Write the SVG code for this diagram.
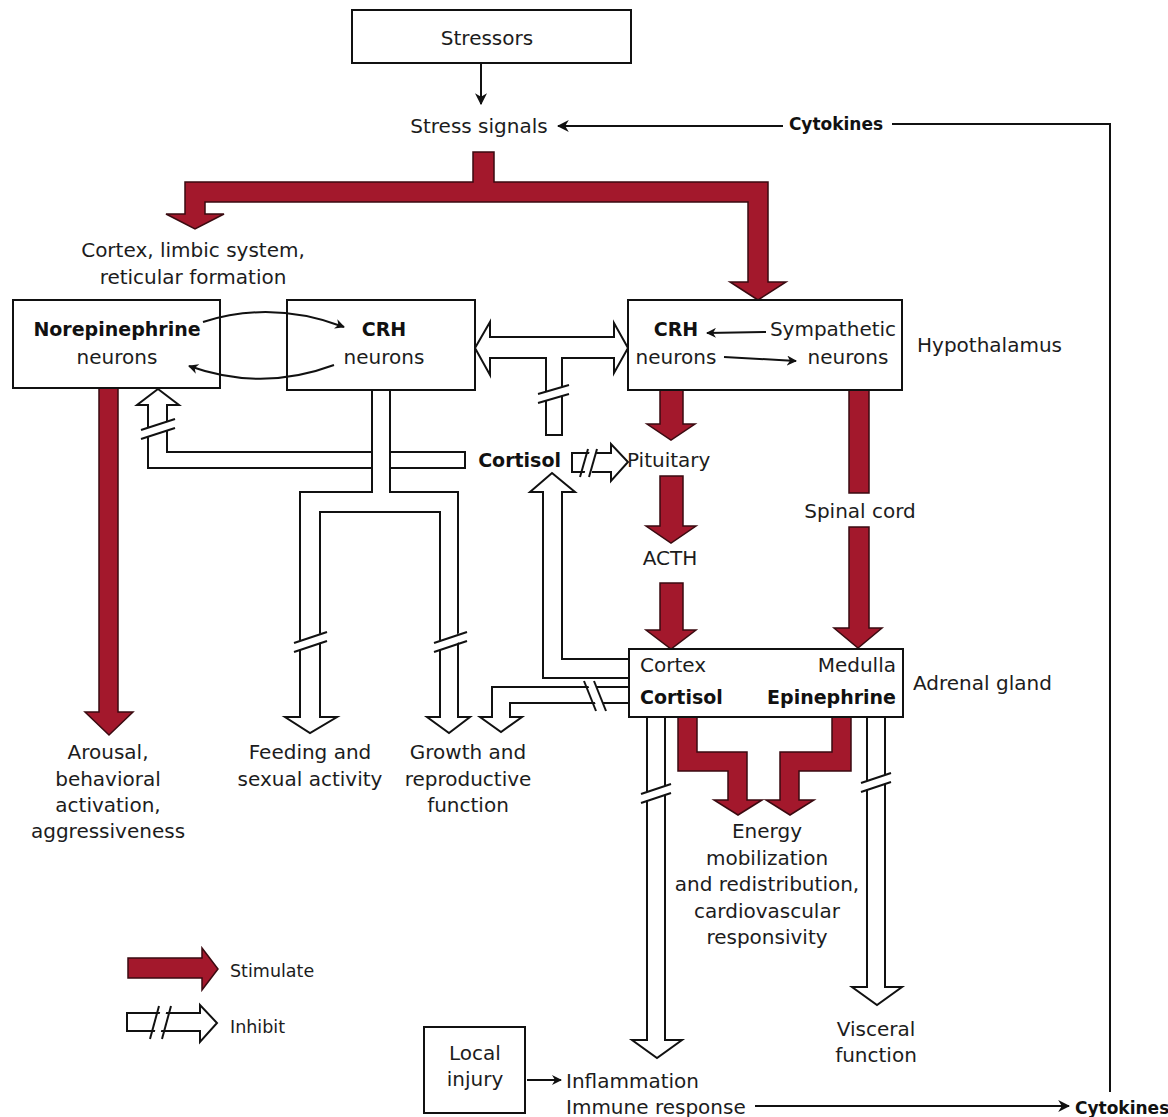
<svg xmlns="http://www.w3.org/2000/svg" width="1168" height="1117" viewBox="0 0 1168 1117">
<defs>
<marker id="ah" viewBox="0 0 10 10" refX="9" refY="5" markerWidth="10" markerHeight="10" markerUnits="userSpaceOnUse" orient="auto"><path d="M0,0 L10,5 L0,10 L3,5 Z" fill="#111"/></marker>
<marker id="ahs" viewBox="0 0 10 10" refX="9" refY="5" markerWidth="12" markerHeight="12" markerUnits="userSpaceOnUse" orient="auto"><path d="M0,0 L10,5 L0,10 L3,5 Z" fill="#111"/></marker>
</defs>
<style>
.t{font-family:"DejaVu Sans",sans-serif;font-size:20px;fill:#1c1c1c}
.b{font-family:"DejaVu Sans",sans-serif;font-size:19px;font-weight:bold;fill:#111}
.c{font-family:"DejaVu Sans",sans-serif;font-size:17px;font-weight:bold;fill:#111}
.l{font-family:"DejaVu Sans",sans-serif;font-size:17.5px;fill:#1c1c1c}
.m{text-anchor:middle}
.e{text-anchor:end}
.box{fill:none;stroke:#111;stroke-width:2}
.red{fill:#a3182c;stroke:#3a0a10;stroke-width:1.5;stroke-linejoin:miter}
.wh{fill:#fff;stroke:#111;stroke-width:2;stroke-linejoin:miter}
.gap{fill:#fff;stroke:none}
.sl{stroke:#111;stroke-width:2;fill:none}
.thin{stroke:#111;stroke-width:2;fill:none}
</style>
<rect width="1168" height="1117" fill="#fff"/>

<g id="connectors">
  <!-- thin arrows -->
  <line class="thin" x1="481" y1="63" x2="481" y2="104" marker-end="url(#ahs)"/>
  <line class="thin" x1="783" y1="126" x2="558" y2="126" marker-end="url(#ahs)"/>
  <polyline class="thin" points="892,124 1110,124 1110,1092"/>
  <line class="thin" x1="527" y1="1080" x2="561" y2="1080" marker-end="url(#ah)"/>
  <line class="thin" x1="755" y1="1106" x2="1069" y2="1106" marker-end="url(#ahs)"/>
  <path class="thin" d="M203,322 Q272,300 344,327" marker-end="url(#ah)"/>
  <path class="thin" d="M334,365 Q262,392 189,366" marker-end="url(#ah)"/>
  <line class="thin" x1="766" y1="332" x2="707" y2="333" marker-end="url(#ah)"/>
  <line class="thin" x1="724" y1="357" x2="796" y2="361" marker-end="url(#ah)"/>

  <!-- red stimulate arrows -->
  <polygon class="red" points="473,152 494,152 494,182 768,182 768,282 786,282 758,300 730,282 748,282 748,202 205,202 205,214 224,214 195,229 166,214 185,214 185,182 473,182"/>
  <polygon class="red" points="99,388 118,388 118,712 133,712 109,735 85,712 99,712"/>
  <polygon class="red" points="660,390 683,390 683,424 695,424 671,440 647,424 660,424"/>
  <polygon class="red" points="660,476 683,476 683,526 696,526 671,543 646,526 660,526"/>
  <polygon class="red" points="660,583 683,583 683,630 696,630 671,649 646,630 660,630"/>
  <polygon class="red" points="849,390 869,390 869,493 849,493"/>
  <polygon class="red" points="849,527 869,527 869,628 882,628 858,648 834,628 849,628"/>
  <polygon class="red" points="678,717 697,717 697,752 747,752 747,800 762,800 738,815 714,800 728,800 728,771 678,771"/>
  <polygon class="red" points="851,717 832,717 832,752 780,752 780,800 766,800 790,815 814,800 799,800 799,771 851,771"/>

  <!-- white inhibit channels -->
  <polygon class="wh" points="158,389 179,405 167,405 167,452 465,452 465,468 148,468 148,405 137,405"/>
  <polygon class="gap" points="146,428 170,420 170,430 146,438"/>
  <line class="sl" x1="141" y1="430" x2="175" y2="419"/>
  <line class="sl" x1="141" y1="439" x2="175" y2="428"/>

  <polygon class="wh" points="372,390 390,390 390,492 458,492 458,717 470,717 449,733 427,717 440,717 440,512 320,512 320,717 337,717 310,733 285,717 300,717 300,492 372,492"/>
  <polygon class="gap" points="298,641 322,633 322,642 298,650"/>
  <line class="sl" x1="294" y1="643" x2="327" y2="632"/>
  <line class="sl" x1="294" y1="652" x2="327" y2="641"/>
  <polygon class="gap" points="438,641 460,633 460,642 438,650"/>
  <line class="sl" x1="434" y1="643" x2="467" y2="632"/>
  <line class="sl" x1="434" y1="652" x2="467" y2="641"/>

  <polygon class="wh" points="475,348 490,322 490,337 614,337 614,323 628,348 614,373 614,358 562,358 562,435 546,435 546,358 490,358 490,375"/>
  <polygon class="gap" points="544,392 564,386 564,395 544,401"/>
  <line class="sl" x1="538" y1="394" x2="569" y2="385"/>
  <line class="sl" x1="538" y1="403" x2="569" y2="394"/>

  <polygon class="wh" points="572,453 611,453 611,444 628,462 611,481 611,472 572,472"/>
  <polygon class="gap" points="584,476 590,450 597,450 591,476"/>
  <line class="sl" x1="580" y1="477" x2="588" y2="449"/>
  <line class="sl" x1="589" y1="477" x2="597" y2="449"/>

  <polygon class="wh" points="552,473 575,492 562,492 562,659 629,659 629,678 543,678 543,492 530,492"/>
  <polygon class="wh" points="629,687 492,687 492,717 480,717 501,732 522,717 510,717 510,703 629,703"/>
  <polygon class="gap" points="588,685 596,685 604,705 596,705"/>
  <line class="sl" x1="584" y1="681" x2="596" y2="711"/>
  <line class="sl" x1="594" y1="681" x2="606" y2="711"/>

  <polygon class="wh" points="647,717 665,717 665,1040 682,1040 657,1058 632,1040 647,1040"/>
  <polygon class="gap" points="645,792 667,785 667,794 645,801"/>
  <line class="sl" x1="641" y1="794" x2="671" y2="784"/>
  <line class="sl" x1="641" y1="803" x2="671" y2="793"/>

  <polygon class="wh" points="867,717 885,717 885,987 902,987 877,1005 852,987 867,987"/>
  <polygon class="gap" points="865,781 887,774 887,783 865,790"/>
  <line class="sl" x1="861" y1="783" x2="891" y2="773"/>
  <line class="sl" x1="861" y1="792" x2="891" y2="782"/>
</g>

<g id="stressors"><rect class="box" x="352" y="10" width="279" height="53"/><text class="t m" x="487" y="45">Stressors</text></g>
<g id="stress-signals"><text class="t m" x="479" y="133">Stress signals</text></g>
<g id="cytokines-top"><text class="c m" x="836" y="130">Cytokines</text></g>
<g id="cortex-limbic"><text class="t m" x="193" y="257">Cortex, limbic system,</text><text class="t m" x="193" y="284">reticular formation</text></g>
<g id="norepinephrine"><rect class="box" x="13" y="300" width="207" height="88"/><text class="b m" x="117" y="336">Norepinephrine</text><text class="t m" x="117" y="364">neurons</text></g>
<g id="crh-left"><rect class="box" x="287" y="300" width="188" height="90"/><text class="b m" x="384" y="336">CRH</text><text class="t m" x="384" y="364">neurons</text></g>
<g id="hypothalamus"><rect class="box" x="628" y="300" width="274" height="90"/><text class="b m" x="676" y="336">CRH</text><text class="t m" x="676" y="364">neurons</text><text class="t m" x="833" y="336">Sympathetic</text><text class="t m" x="848" y="364">neurons</text><text class="t" x="917" y="352">Hypothalamus</text></g>
<g id="cortisol-mid"><text class="b e" x="561" y="467">Cortisol</text></g>
<g id="pituitary"><text class="t" x="627" y="467">Pituitary</text></g>
<g id="spinal-cord"><text class="t m" x="860" y="518">Spinal cord</text></g>
<g id="acth"><text class="t m" x="670" y="565">ACTH</text></g>
<g id="adrenal"><rect class="box" x="629" y="649" width="274" height="68"/><text class="t" x="640" y="672">Cortex</text><text class="t e" x="896" y="672">Medulla</text><text class="b" x="640" y="704">Cortisol</text><text class="b e" x="896" y="704">Epinephrine</text><text class="t" x="913" y="690">Adrenal gland</text></g>
<g id="arousal"><text class="t m" x="108" y="759">Arousal,</text><text class="t m" x="108" y="786">behavioral</text><text class="t m" x="108" y="812">activation,</text><text class="t m" x="108" y="838">aggressiveness</text></g>
<g id="feeding"><text class="t m" x="310" y="759">Feeding and</text><text class="t m" x="310" y="786">sexual activity</text></g>
<g id="growth"><text class="t m" x="468" y="759">Growth and</text><text class="t m" x="468" y="786">reproductive</text><text class="t m" x="468" y="812">function</text></g>
<g id="energy"><text class="t m" x="767" y="838">Energy</text><text class="t m" x="767" y="865">mobilization</text><text class="t m" x="767" y="891">and redistribution,</text><text class="t m" x="767" y="918">cardiovascular</text><text class="t m" x="767" y="944">responsivity</text></g>
<g id="visceral"><text class="t m" x="876" y="1036">Visceral</text><text class="t m" x="876" y="1062">function</text></g>
<g id="local-injury"><rect class="box" x="424" y="1027" width="101" height="86"/><text class="t m" x="475" y="1060">Local</text><text class="t m" x="475" y="1086">injury</text></g>
<g id="inflammation"><text class="t" x="566" y="1088">Inflammation</text><text class="t" x="566" y="1114">Immune response</text></g>
<g id="cytokines-bottom"><text class="c" x="1075" y="1114">Cytokines</text></g>
<g id="legend">
  <polygon class="red" points="128,958 202,958 202,948 218,969 202,990 202,978 128,978"/>
  <text class="l" x="230" y="977">Stimulate</text>
  <polygon class="wh" points="127,1013 200,1013 200,1005 217,1023 200,1042 200,1031 127,1031"/>
  <polygon class="gap" points="154,1035 161,1009 167,1009 160,1035"/>
  <line class="sl" x1="150" y1="1039" x2="159" y2="1006"/>
  <line class="sl" x1="162" y1="1039" x2="171" y2="1006"/>
  <text class="l" x="230" y="1033">Inhibit</text>
</g>
</svg>
